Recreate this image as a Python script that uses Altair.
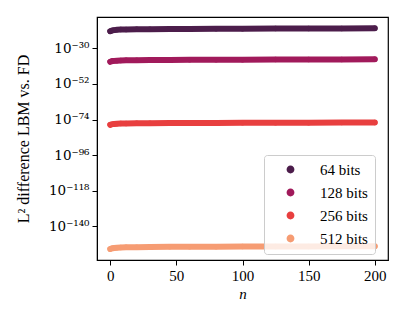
import altair as alt
import pandas as pd

# sample positions along n
n_vals = [0, 1, 2, 3, 5, 8, 12, 20, 30, 45, 60, 80, 100, 125, 150, 175, 200]
# log10 of L2 difference
exp_64 = [-19.4, -19.05, -18.85, -18.72, -18.55, -18.4, -18.3, -18.18, -18.1, -18.02, -17.95, -17.88, -17.82, -17.76, -17.7, -17.65, -17.6]
exp_128 = [-38.3, -38.0, -37.85, -37.74, -37.6, -37.48, -37.4, -37.3, -37.22, -37.15, -37.1, -37.04, -36.99, -36.94, -36.89, -36.85, -36.8]
exp_256 = [-77.3, -77.02, -76.87, -76.77, -76.63, -76.52, -76.44, -76.35, -76.28, -76.21, -76.16, -76.1, -76.05, -76.0, -75.96, -75.93, -75.9]
exp_512 = [-154.1, -153.77, -153.58, -153.46, -153.3, -153.15, -153.05, -152.94, -152.86, -152.78, -152.72, -152.65, -152.6, -152.54, -152.49, -152.44, -152.4]

series_names = ["64 bits", "128 bits", "256 bits", "512 bits"]
series_colors = ["#4c1d4b", "#a11a5b", "#e83f3f", "#f69c73"]

y_tick_exps = [-30, -52, -74, -96, -118, -140]
y_tick_labels = ["10⁻³⁰", "10⁻⁵²", "10⁻⁷⁴", "10⁻⁹⁶", "10⁻¹¹⁸", "10⁻¹⁴⁰"]
x_ticks = [0, 50, 100, 150, 200]

rows = []
for name, vals in zip(series_names, [exp_64, exp_128, exp_256, exp_512]):
    for n, e in zip(n_vals, vals):
        rows.append({"n": n, "logerr": e, "series": name})
df = pd.DataFrame(rows)

label_expr = ""
for e, lab in zip(y_tick_exps, y_tick_labels):
    label_expr += f"round(datum.value) == {e} ? '{lab}' : "
label_expr += "''"

FONT = "Liberation Serif"
FS = 15

x_enc = alt.X("n:Q", scale=alt.Scale(domain=[-10, 210], nice=False, zero=False),
              axis=alt.Axis(values=x_ticks, title="n", titleFontStyle="italic",
                            titleFontWeight="normal", titleY=33, titleBaseline="middle",
                            labelFlush=False, grid=False))
y_enc = alt.Y("logerr:Q", scale=alt.Scale(domain=[-160.9, -10.6], nice=False, zero=False),
              axis=alt.Axis(values=y_tick_exps, labelExpr=label_expr,
                            labelFont="DejaVu Serif", labelFontSize=13.5,
                            title="L² difference LBM vs. FD", titleFontWeight="normal",
                            titleFontSize=16,
                            titleX=-74, titleY=121.5, titleAngle=-90, titleAlign="center",
                            titleBaseline="middle", grid=False))
color_scale = alt.Scale(domain=series_names, range=series_colors)

lines = alt.Chart(df).mark_line(strokeWidth=6, strokeCap="round", strokeJoin="round").encode(
    x=x_enc, y=y_enc,
    color=alt.Color("series:N", scale=color_scale, legend=None),
    detail="series:N",
)
points = alt.Chart(df).mark_circle(size=30, opacity=1).encode(
    x=x_enc, y=y_enc,
    color=alt.Color("series:N", scale=color_scale, sort=series_names,
                    legend=alt.Legend(title=None, orient="none", legendX=167, legendY=138,
                                      symbolType="circle", symbolSize=40,
                                      labelFontSize=FS, labelFont=FONT,
                                      fillColor="rgba(255,255,255,0.8)", strokeColor="#cccccc",
                                      cornerRadius=3, padding=7, rowPadding=7,
                                      symbolOffset=12, labelOffset=22,
                                      )),
)

chart = alt.layer(points, lines).properties(
    width=291, height=243,
    autosize=alt.AutoSizeParams(type="none"),
    padding={"left": 89, "top": 9, "right": 11, "bottom": 40},
    background="white",
).configure_view(stroke="black", strokeWidth=1.2).configure_axis(
    labelFont=FONT, titleFont=FONT, labelFontSize=FS, titleFontSize=FS,
    labelColor="black", titleColor="black", tickColor="black", domainColor="black",
    tickSize=5, labelPadding=3, domain=True,
)

chart.save("out.html", embed_options={"renderer": "svg", "actions": False})
